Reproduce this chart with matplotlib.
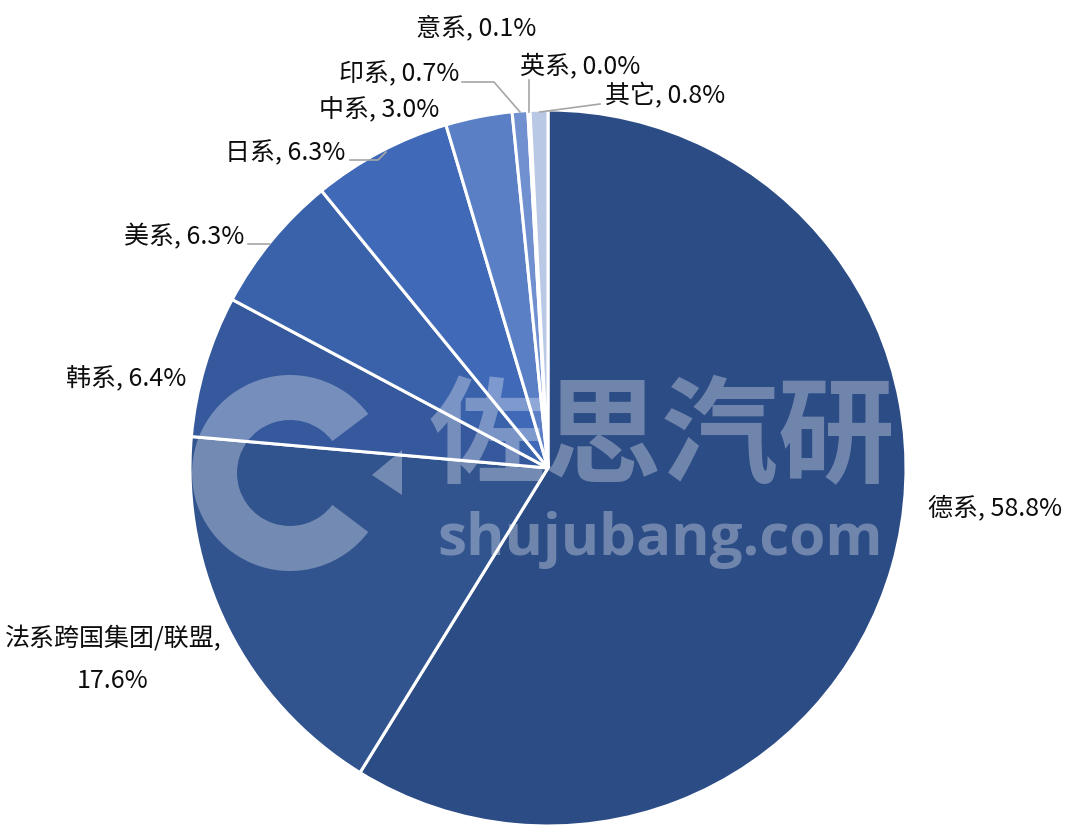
import matplotlib.pyplot as plt
from matplotlib.patches import Wedge, Polygon

plt.rcParams['font.family'] = ['Noto Sans CJK SC', 'DejaVu Sans']

labels = ["德系", "法系跨国集团/联盟", "韩系", "美系", "日系", "中系", "印系", "意系", "英系", "其它"]
values = [58.8, 17.6, 6.4, 6.3, 6.3, 3.0, 0.7, 0.1, 0.0, 0.8]
colors = ["#2c4c86", "#31548f", "#35599c", "#3a62aa", "#4069b8", "#5b7fc5", "#7090d0", "#8aa3d8", "#a2b5df", "#b9c8e4"]

# label positions in pixels (x, y from top) and text alignment
label_pos = [(928, 508, "left"), (113, 660, "center"), (126, 378, "center"), (184, 237, "center"),
             (285, 153, "center"), (379, 110, "center"), (399, 74, "center"), (476, 28, "center"),
             (580, 66, "center"), (665, 96, "center")]
leaders = [None, None, None, [(248, 244), (270, 244)], [(350, 160), (378, 160), (386, 152)], None,
           [(462, 82), (494, 82), (520, 112)], None, [(529, 80), (529, 112)], [(600, 104), (540, 112)]]

W, H = 1080, 840
fig = plt.figure(figsize=(W / 100, H / 100), dpi=100)
ax = fig.add_axes([0, 0, 1, 1])
ax.set_xlim(0, W)
ax.set_ylim(0, H)
ax.set_aspect("equal")
ax.axis("off")

cx, cy, r = 548, H - 468, 358
ax.pie(values, colors=colors, startangle=90, counterclock=False, center=(cx, cy), radius=r,
       wedgeprops=dict(edgecolor="white", linewidth=2.2))
ax.set_xlim(0, W)
ax.set_ylim(0, H)

for lab, v, (x, y, ha), ld in zip(labels, values, label_pos, leaders):
    if lab.startswith("法系"):
        txt = f"{lab},\n{v:.1f}%"
    else:
        txt = f"{lab}, {v:.1f}%"
    ax.text(x, H - y, txt, ha=ha, va="center", fontsize=18, color="#0d0d0d", linespacing=1.75)
    if ld:
        ax.plot([p[0] for p in ld], [H - p[1] for p in ld], color="#a6a6a6", lw=1.2)

# watermark
wm = dict(color="white", alpha=0.32)
ax.add_patch(Wedge((290, H - 473), 98, 37, 323, width=45, facecolor="white", alpha=0.32, lw=0))
ax.add_patch(Polygon([(372, H - 475), (402, H - 450), (402, H - 495)], closed=True,
                     facecolor="white", alpha=0.32, lw=0))
ax.text(662, H - 440, "佐思汽研", ha="center", va="center", fontsize=84, fontweight="bold", **wm)
ax.text(660, H - 540, "shujubang.com", ha="center", va="center", fontsize=42, fontweight="bold",
        family=["Open Sans", "DejaVu Sans"], **wm)

fig.savefig("out.png", dpi=100, facecolor="white")
